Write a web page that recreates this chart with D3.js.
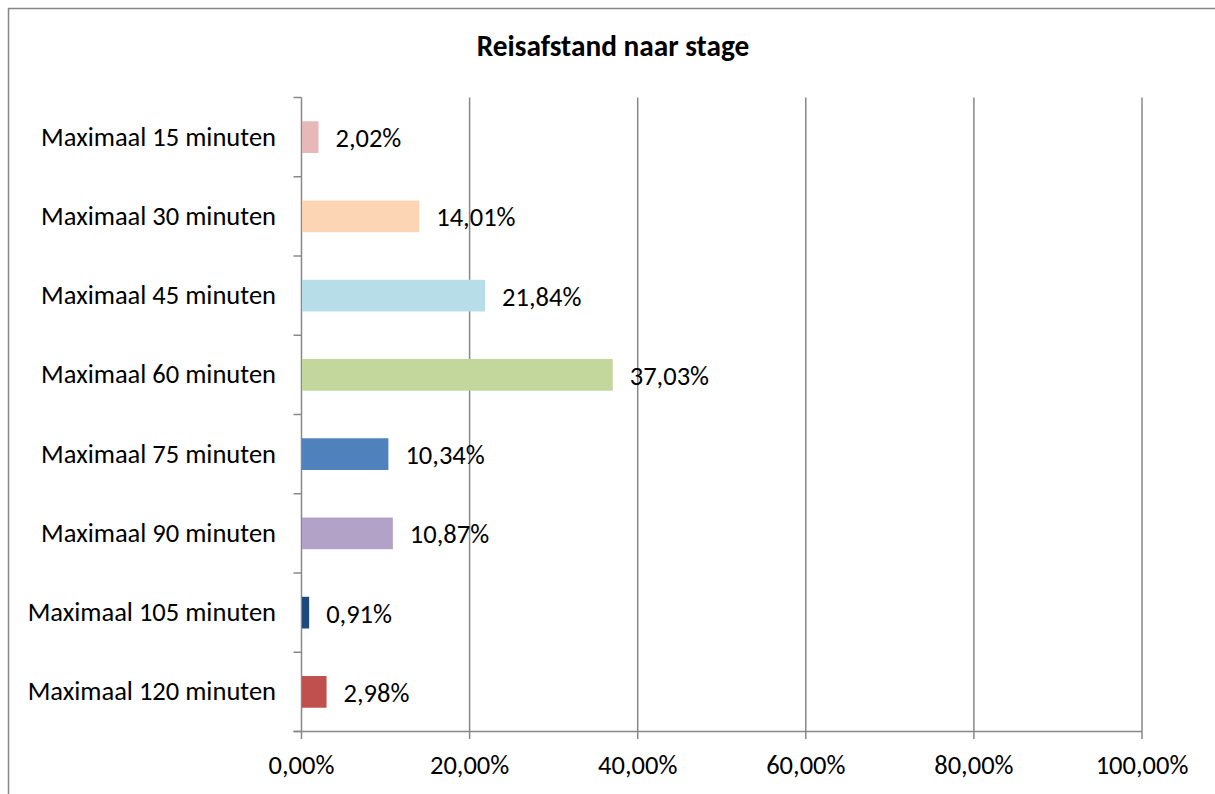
<!DOCTYPE html>
<html>
<head>
<meta charset="utf-8">
<script src="https://cdn.jsdelivr.net/npm/d3@7"></script>
<style>
  body { margin: 0; background: #fff; }
  text { font-family: Carlito, "Open Sans", "Liberation Sans", sans-serif; }
</style>
</head>
<body>
<div id="chart"></div>
<script>
const categories = [
  "Maximaal 15 minuten",
  "Maximaal 30 minuten",
  "Maximaal 45 minuten",
  "Maximaal 60 minuten",
  "Maximaal 75 minuten",
  "Maximaal 90 minuten",
  "Maximaal 105 minuten",
  "Maximaal 120 minuten"
];
const values = [2.02, 14.01, 21.84, 37.03, 10.34, 10.87, 0.91, 2.98];
const colors = ["#e6b9b8", "#fcd5b5", "#b7dee8", "#c3d69b", "#4f81bd", "#b3a2c7", "#1f497d", "#c0504d"];
const xTicks = [0, 20, 40, 60, 80, 100];

const width = 1215, height = 794;
const svg = d3.select("#chart").append("svg")
  .attr("width", width).attr("height", height);

// chart border (right and bottom edges run off the picture)
svg.append("rect")
  .attr("x", 8.5).attr("y", 8.5)
  .attr("width", width + 10).attr("height", height + 10)
  .attr("fill", "none").attr("stroke", "#878787").attr("stroke-width", 1.5);

svg.append("text")
  .attr("x", 613).attr("y", 56)
  .attr("text-anchor", "middle")
  .attr("font-size", 29.3).attr("font-weight", "bold")
  .text("Reisafstand naar stage");

const x = d3.scaleLinear().domain([0, 100]).range([301.5, 1142]);
const y = d3.scaleBand().domain(categories).range([97.5, 731.5]);
const fmt = (v) => d3.format(".2f")(v).replace(".", ",") + "%";

const grid = "#888888";
const fs = 26.5;

// vertical gridlines
svg.append("g").selectAll("line")
  .data(xTicks.slice(1))
  .join("line")
  .attr("x1", (d) => x(d)).attr("x2", (d) => x(d))
  .attr("y1", 97.5).attr("y2", 739)
  .attr("stroke", grid).attr("stroke-width", 1.5);

// y axis line + ticks at band boundaries
svg.append("line")
  .attr("x1", x(0)).attr("x2", x(0))
  .attr("y1", 97.5).attr("y2", 739)
  .attr("stroke", grid).attr("stroke-width", 1.5);
const bounds = categories.map((c) => y(c)).concat([y.range()[1]]);
svg.append("g").selectAll("line")
  .data(bounds)
  .join("line")
  .attr("x1", x(0) - 8).attr("x2", x(0))
  .attr("y1", (d) => d).attr("y2", (d) => d)
  .attr("stroke", grid).attr("stroke-width", 1.5);

// x axis line
svg.append("line")
  .attr("x1", x(0) - 8).attr("x2", x(100))
  .attr("y1", 731.5).attr("y2", 731.5)
  .attr("stroke", grid).attr("stroke-width", 1.5);

// x tick labels
svg.append("g").selectAll("text")
  .data(xTicks)
  .join("text")
  .attr("x", (d) => x(d)).attr("y", 774)
  .attr("text-anchor", "middle")
  .attr("font-size", fs)
  .text((d) => fmt(d));

// category labels
svg.append("g").selectAll("text")
  .data(categories)
  .join("text")
  .attr("x", 276).attr("y", (d) => y(d) + y.bandwidth() / 2 + 8.5)
  .attr("text-anchor", "end")
  .attr("font-size", fs)
  .text((d) => d);

// bars
const barH = y.bandwidth() * 0.4;
svg.append("g").selectAll("rect")
  .data(values)
  .join("rect")
  .attr("x", x(0) + 0.5)
  .attr("y", (d, i) => y(categories[i]) + (y.bandwidth() - barH) / 2)
  .attr("width", (d) => x(d) - x(0) - 0.5)
  .attr("height", barH)
  .attr("fill", (d, i) => colors[i]);

// data labels
svg.append("g").selectAll("text")
  .data(values)
  .join("text")
  .attr("x", (d) => x(d) + 17)
  .attr("y", (d, i) => y(categories[i]) + y.bandwidth() / 2 + 10)
  .attr("font-size", fs)
  .text((d) => fmt(d));
</script>
</body>
</html>
